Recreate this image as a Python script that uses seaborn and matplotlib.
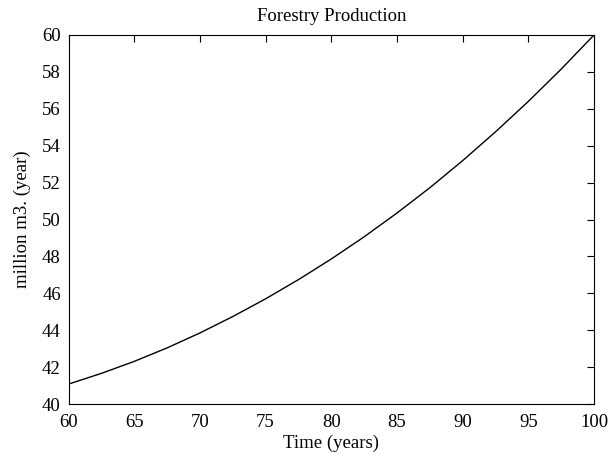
import matplotlib
matplotlib.use("Agg")
import matplotlib.pyplot as plt
import seaborn as sns
import pandas as pd

# Forestry production over the rotation period
years = [60, 62.5, 65, 67.5, 70, 72.5, 75, 77.5, 80, 82.5, 85,
         87.5, 90, 92.5, 95, 97.5, 100]
production = [41.08, 41.66, 42.31, 43.04, 43.85, 44.74, 45.70, 46.74, 47.86,
              49.06, 50.35, 51.72, 53.19, 54.75, 56.40, 58.15, 60.00]

x_ticks = [60, 65, 70, 75, 80, 85, 90, 95, 100]
y_ticks = [40, 42, 44, 46, 48, 50, 52, 54, 56, 58, 60]

sns.set_theme(style="white")
plt.rcParams["font.family"] = ["Liberation Serif", "DejaVu Serif"]
plt.rcParams["xtick.direction"] = "in"
plt.rcParams["ytick.direction"] = "in"

df = pd.DataFrame({"year": years, "production": production})

fig = plt.figure(figsize=(6.10, 4.61), dpi=100)
ax = fig.add_axes([0.1123, 0.1236, 0.8615, 0.8005])

sns.lineplot(data=df, x="year", y="production", ax=ax, color="black", linewidth=1.0)

ax.set_xlim(60, 100)
ax.set_ylim(40, 60)
ax.set_xticks(x_ticks)
ax.set_yticks(y_ticks)
ax.tick_params(axis="both", which="both", direction="in", length=5, width=0.8,
               colors="black", labelsize=13.5, top=True, right=True,
               labeltop=False, labelright=False)
ax.tick_params(axis="x", pad=7.5)
ax.tick_params(axis="y", pad=5.5)
for side in ["left", "right", "top", "bottom"]:
    ax.spines[side].set_visible(True)
    ax.spines[side].set_color("black")
    ax.spines[side].set_linewidth(0.8)

ax.set_title("Forestry Production", fontsize=13.5, color="black", pad=10)
ax.set_xlabel("Time (years)", fontsize=13.5, color="black", labelpad=2)
ax.set_ylabel("million m3. (year)", fontsize=13.5, color="black", labelpad=8)

fig.savefig("out.png", dpi=100)
